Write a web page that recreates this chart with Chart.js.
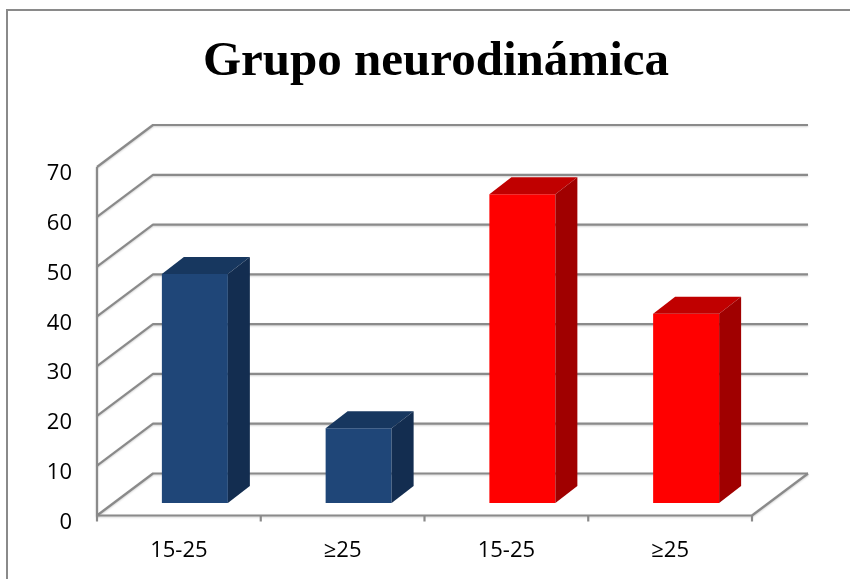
<!DOCTYPE html>
<html>
<head>
<meta charset="utf-8">
<script src="https://cdn.jsdelivr.net/npm/chart.js@4/dist/chart.umd.min.js"></script>
<style>
  html, body { margin: 0; padding: 0; background: #fff; }
</style>
</head>
<body>
<canvas id="grafico" width="850" height="579"></canvas>
<script>
// Datos del gráfico
const categorias = ['15-25', '≥25', '15-25', '≥25'];
const valores = [46, 15, 62, 38];
const coloresFrente = ['#1f4678', '#1f4678', '#ff0000', '#ff0000'];
const coloresArriba = ['#17375f', '#17375f', '#c00000', '#c00000'];
const coloresLado = ['#132d50', '#132d50', '#a00000', '#a00000'];
const ticksY = [0, 10, 20, 30, 40, 50, 60, 70];

// Profundidad de la "caja" 3D y de las barras
const FONDO = { x: 56, y: -42 };
const POS_BARRA = { x: 16, y: -12.5 };
const PROF_BARRA = { x: 22, y: -17 };

const efecto3d = {
  id: 'efecto3d',
  beforeDraw(chart) {
    const ctx = chart.ctx;
    ctx.save();
    ctx.strokeStyle = '#8a8a8a';
    ctx.lineWidth = 2;
    ctx.beginPath();
    ctx.moveTo(7, 579);
    ctx.lineTo(7, 10);
    ctx.lineTo(850, 10);
    ctx.stroke();
    ctx.restore();
  },
  beforeDatasetsDraw(chart) {
    const ctx = chart.ctx;
    const { left, right } = chart.chartArea;
    const y = chart.scales.y;
    const y0 = y.getPixelForValue(0);

    ctx.save();
    ctx.strokeStyle = '#8a8a8a';
    ctx.lineWidth = 2.2;
    ctx.lineJoin = 'round';
    ctx.shadowColor = 'rgba(0,0,0,0.18)';
    ctx.shadowBlur = 2;
    ctx.shadowOffsetY = 1;

    ticksY.forEach(v => {
      const py = y.getPixelForValue(v);
      ctx.beginPath();
      ctx.moveTo(left, py);
      ctx.lineTo(left + FONDO.x, py + FONDO.y);
      ctx.lineTo(right + FONDO.x, py + FONDO.y);
      ctx.stroke();
    });

    // piso y eje vertical
    ctx.beginPath();
    ctx.moveTo(left, y.getPixelForValue(ticksY[ticksY.length - 1]));
    ctx.lineTo(left, y0);
    ctx.lineTo(right, y0);
    ctx.lineTo(right + FONDO.x, y0 + FONDO.y);
    ctx.stroke();

    // marcas del eje x
    ctx.shadowColor = 'transparent';
    for (let i = 0; i <= categorias.length; i++) {
      const px = left + (right - left) * i / categorias.length;
      ctx.beginPath();
      ctx.moveTo(px, y0);
      ctx.lineTo(px, y0 + 6);
      ctx.stroke();
    }
    ctx.restore();

    // las barras se dibujan desplazadas hacia el fondo
    ctx.save();
    ctx.translate(POS_BARRA.x, POS_BARRA.y);
  },
  afterDatasetsDraw(chart) {
    const ctx = chart.ctx;
    const meta = chart.getDatasetMeta(0);
    meta.data.forEach((bar, i) => {
      const { x, y, base, width } = bar.getProps(['x', 'y', 'base', 'width'], true);
      const l = x - width / 2;
      const r = x + width / 2;
      // cara superior
      ctx.fillStyle = coloresArriba[i];
      ctx.beginPath();
      ctx.moveTo(l, y);
      ctx.lineTo(l + PROF_BARRA.x, y + PROF_BARRA.y);
      ctx.lineTo(r + PROF_BARRA.x, y + PROF_BARRA.y);
      ctx.lineTo(r, y);
      ctx.closePath();
      ctx.fill();
      // cara lateral
      ctx.fillStyle = coloresLado[i];
      ctx.beginPath();
      ctx.moveTo(r, y);
      ctx.lineTo(r + PROF_BARRA.x, y + PROF_BARRA.y);
      ctx.lineTo(r + PROF_BARRA.x, base + PROF_BARRA.y);
      ctx.lineTo(r, base);
      ctx.closePath();
      ctx.fill();
    });
    ctx.restore();
  }
};

Chart.defaults.font.family = "'Open Sans', sans-serif";
Chart.defaults.color = '#000';

new Chart(document.getElementById('grafico').getContext('2d'), {
  type: 'bar',
  data: {
    labels: categorias,
    datasets: [{
      data: valores,
      backgroundColor: coloresFrente,
      borderWidth: 0,
      categoryPercentage: 1,
      barPercentage: 0.403,
    }],
  },
  options: {
    responsive: false,
    animation: false,
    devicePixelRatio: 1,
    layout: { padding: { left: 22, right: 0, top: 0, bottom: 0 } },
    plugins: {
      legend: { display: false },
      tooltip: { enabled: false },
      title: {
        display: true,
        text: 'Grupo neurodinámica',
        color: '#000',
        font: { family: "'Liberation Serif', serif", size: 49, weight: 'bold', lineHeight: 1.2 },
        padding: { top: 33, bottom: 75.2 },
      },
    },
    scales: {
      x: {
        grid: { display: false, drawTicks: false },
        border: { display: false },
        ticks: { font: { size: 22 }, padding: 22 },
        afterFit: scale => { scale.height = 579 - 515.5; },
      },
      y: {
        min: 0,
        max: 70,
        grid: { display: false, drawTicks: false },
        border: { display: false },
        ticks: { stepSize: 10, font: { size: 22 }, padding: 25, labelOffset: 7 },
        afterFit: scale => { scale.width = 97 - 22; },
      },
      // eje vacío a la derecha, sólo reserva el espacio del fondo
      derecha: {
        position: 'right',
        display: true,
        grid: { display: false, drawTicks: false },
        border: { display: false },
        ticks: { display: false },
        afterFit: scale => { scale.width = 850 - 752; },
      },
    },
  },
  plugins: [efecto3d],
});
</script>
</body>
</html>
